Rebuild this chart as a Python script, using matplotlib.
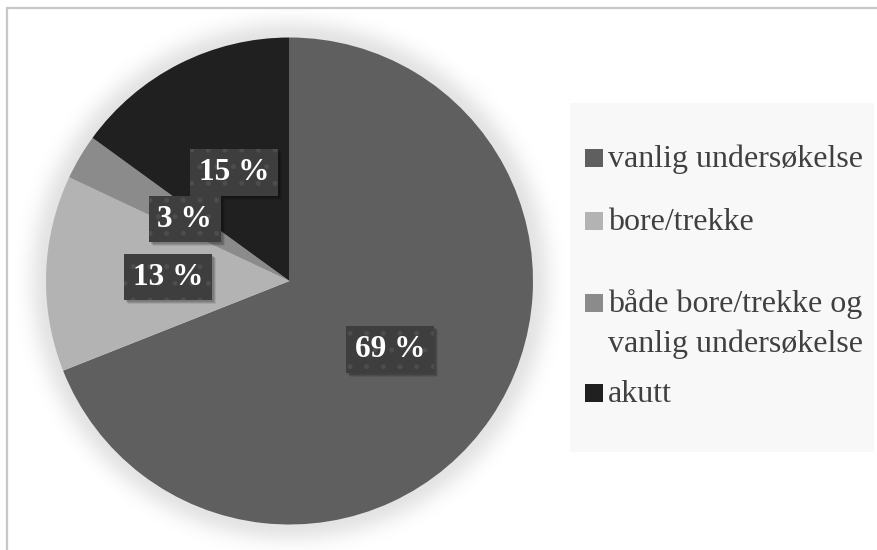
import numpy as np
import matplotlib
matplotlib.use("Agg")
import matplotlib.pyplot as plt
from matplotlib.patches import Rectangle
from matplotlib.transforms import IdentityTransform

# Data
categories = ["vanlig undersøkelse", "bore/trekke",
              "både bore/trekke og\nvanlig undersøkelse", "akutt"]
values = [69, 13, 3, 15]
colors = ["#5f5f5f", "#b3b3b3", "#8b8b8b", "#202020"]

W, H = 878, 550
plt.rcParams["font.family"] = ["Liberation Serif", "DejaVu Serif"]
plt.rcParams["hatch.linewidth"] = 1.2
fig = plt.figure(figsize=(W / 100, H / 100), dpi=100)
fig.patch.set_facecolor("white")

# Pie axes placed in pixel terms: centre (289.5, 281 from top), radius 243.5
cx, cy, R = 289.5, H - 281, 243.5
L = 1.3
side = 2 * L * R
ax = fig.add_axes([(cx - side / 2) / W, (cy - side / 2) / H, side / W, side / H])
ax.set_axis_off()

# Soft halo behind the pie
n = 600
g = np.linspace(-L, L, n)
xx, yy = np.meshgrid(g, g)
rr = np.hypot(xx, yy)
alpha = np.where(rr >= 1.0, 0.11 * np.exp(-((rr - 1.0) / 0.075) ** 2), 0.11)
img = np.zeros((n, n, 4))
img[..., 3] = alpha
ax.imshow(img, extent=[-L, L, -L, L], origin="lower", zorder=0,
          interpolation="bilinear")

wedges, texts, autotexts = ax.pie(
    values, colors=colors, startangle=90, counterclock=False,
    radius=1.0, pctdistance=0.5,
    autopct=lambda p: f"{p:.0f} %",
    wedgeprops=dict(linewidth=0),
    textprops=dict(color="white", fontsize=22.5, fontweight="bold"),
)
for w in wedges:
    w.set_zorder(2)
for t in autotexts:
    t.set_zorder(4)
    t.set_bbox(dict(boxstyle="square,pad=0.28", facecolor="#3e3e3e",
                    edgecolor="#4d4d4d", linewidth=0, hatch="."))
ax.set_xlim(-L, L)
ax.set_ylim(-L, L)

# Soft drop shadows under the label boxes, placed from their rendered extents
fig.canvas.draw()
for t in autotexts:
    bb = t.get_bbox_patch().get_window_extent()
    for k, a in ((4, 0.08), (3, 0.12), (2, 0.14)):
        ax.add_artist(Rectangle((bb.x0 + k, bb.y0 - k), bb.width, bb.height,
                                transform=IdentityTransform(), facecolor="black",
                                edgecolor="none", alpha=a, zorder=3))

# Legend panel
fig.add_artist(Rectangle((570 / W, 1 - 452 / H), (874 - 570) / W, (452 - 103) / H,
                         transform=fig.transFigure, facecolor="#f8f8f8",
                         edgecolor="none", zorder=5))
first_baselines = [167, 230, 312, 402]
line_step = 40
sq = 18
for lab, col, yb in zip(categories, colors, first_baselines):
    fig.add_artist(Rectangle((585 / W, 1 - yb / H), sq / W, sq / H,
                             transform=fig.transFigure, facecolor=col,
                             edgecolor="none", zorder=6))
    for i, line in enumerate(lab.split("\n")):
        fig.text(608 / W, 1 - (yb + i * line_step) / H, line, ha="left",
                 va="baseline", fontsize=23, color="#404040", zorder=6)

# Outer frame
fig.add_artist(Rectangle((7 / W, -0.1), 1.2, 1.1 - 8 / H, transform=fig.transFigure,
                         fill=False, edgecolor="#c8c8c8", linewidth=1.6, zorder=10))

fig.savefig("out.png", dpi=100)
